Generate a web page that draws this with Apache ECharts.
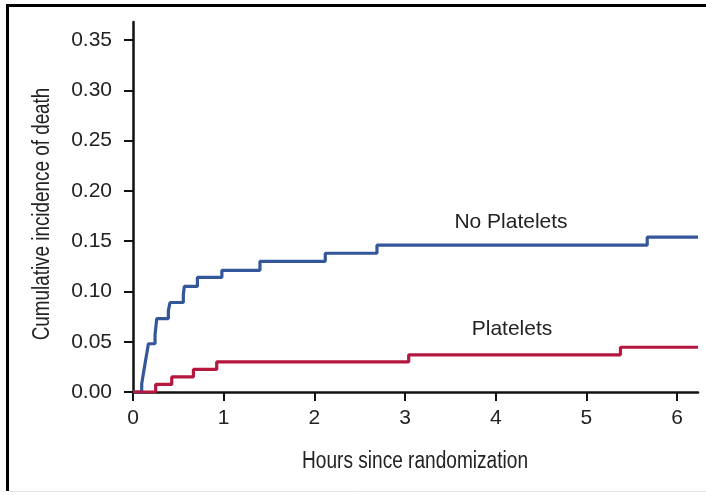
<!DOCTYPE html>
<html><head><meta charset="utf-8">
<script src="https://cdn.jsdelivr.net/npm/echarts@6/dist/echarts.min.js"></script>
<style>html,body{margin:0;padding:0;background:#fff}#c{width:706px;height:495px}</style>
</head><body><div id="c"></div>
<script>
var xTicks = [0, 1, 2, 3, 4, 5, 6];
var yTicks = [0, 0.05, 0.10, 0.15, 0.20, 0.25, 0.30, 0.35];
var noPlatelets = [
  [0, 0], [0.096, 0.008], [0.11, 0.016], [0.125, 0.024], [0.14, 0.032], [0.155, 0.040],
  [0.17, 0.048], [0.243, 0.057], [0.262, 0.073], [0.39, 0.081], [0.408, 0.089],
  [0.555, 0.097], [0.566, 0.105], [0.71, 0.114], [0.98, 0.121], [1.40, 0.130],
  [2.12, 0.138], [2.69, 0.146], [5.67, 0.154], [6.23, 0.154]
];
var platelets = [
  [0, 0], [0.25, 0.0075], [0.427, 0.015], [0.666, 0.0225], [0.923, 0.030],
  [3.04, 0.037], [5.375, 0.0445], [6.23, 0.0445]
];
var seriesNames = ['No Platelets', 'Platelets'];
var xTitle = 'Hours since randomization';
var yTitle = 'Cumulative incidence of death';

var chart = echarts.init(document.getElementById('c'));
var tickFont = 'Liberation Sans, Arial, sans-serif';
chart.setOption({
  animation: false,
  grid: { left: 133, right: 8, top: 22, bottom: 103 },
  xAxis: {
    type: 'value', min: 0, max: 6.23,
    axisLine: { lineStyle: { color: '#111', width: 2.5 } },
    axisTick: { show: true, length: 9, lineStyle: { color: '#111', width: 2 }, customValues: xTicks },
    axisLabel: { customValues: xTicks, color: '#222', fontSize: 21, fontFamily: tickFont, margin: 16 },
    splitLine: { show: false }
  },
  yAxis: {
    type: 'value', min: 0, max: 0.368,
    axisLine: { show: true, lineStyle: { color: '#111', width: 2.5 } },
    axisTick: { show: true, length: 9, lineStyle: { color: '#111', width: 2 }, customValues: yTicks },
    axisLabel: { customValues: yTicks, color: '#222', fontSize: 21, fontFamily: tickFont, margin: 21,
      formatter: function (v) { return v.toFixed(2); } },
    splitLine: { show: false }
  },
  series: [
    { name: seriesNames[0], type: 'line', step: 'end', data: noPlatelets, symbol: 'none',
      lineStyle: { color: '#34579a', width: 3.2 }, z: 3 },
    { name: seriesNames[1], type: 'line', step: 'end', data: platelets, symbol: 'none',
      lineStyle: { color: '#b5173f', width: 3.2 }, z: 4 }
  ],
  graphic: [
    { type: 'text', x: 511, y: 222, style: { text: seriesNames[0], fill: '#222', font: '21px Liberation Sans, Arial, sans-serif', textAlign: 'center', textVerticalAlign: 'middle' } },
    { type: 'text', x: 512, y: 329, style: { text: seriesNames[1], fill: '#222', font: '21px Liberation Sans, Arial, sans-serif', textAlign: 'center', textVerticalAlign: 'middle' } },
    { type: 'text', x: 415, y: 462, scaleX: 0.83, style: { text: xTitle, fill: '#222', font: '23px Liberation Sans, Arial, sans-serif', textAlign: 'center', textVerticalAlign: 'middle' } },
    { type: 'text', x: 43, y: 214, rotation: Math.PI / 2, scaleX: 0.82, style: { text: yTitle, fill: '#222', font: '23px Liberation Sans, Arial, sans-serif', textAlign: 'center', textVerticalAlign: 'middle' } },
    { type: 'line', shape: { x1: 7.5, y1: 4, x2: 7.5, y2: 491 }, style: { stroke: '#000', lineWidth: 3 } },
    { type: 'line', shape: { x1: 6, y1: 5.5, x2: 706, y2: 5.5 }, style: { stroke: '#000', lineWidth: 3 } },
    { type: 'line', shape: { x1: 9, y1: 491.5, x2: 706, y2: 491.5 }, style: { stroke: '#e4e4e4', lineWidth: 1 } }
  ]
});
</script></body></html>
